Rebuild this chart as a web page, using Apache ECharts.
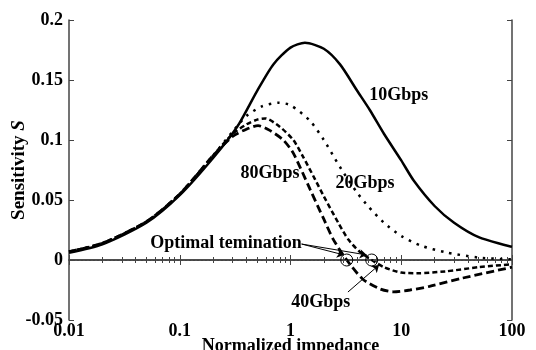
<!DOCTYPE html>
<html>
<head>
<meta charset="utf-8">
<script src="https://cdn.jsdelivr.net/npm/echarts@6/dist/echarts.min.js"></script>
<style>
  html, body { margin: 0; padding: 0; background: #fff; }
  #chart { width: 536px; height: 350px; }
</style>
</head>
<body>
<div id="chart"></div>
<script>
// normalized impedance (x) and sensitivity S (y) for each bit rate
const x10 = [0.01, 0.02, 0.05, 0.1, 0.2, 0.33, 0.5, 0.7, 1, 1.35, 2, 2.8, 4, 5.2, 7, 10, 13, 20, 30, 50, 100];
const y10 = [0.006, 0.013, 0.031, 0.054, 0.085, 0.111, 0.141, 0.163, 0.177, 0.181, 0.176, 0.163, 0.141, 0.125, 0.105, 0.083, 0.066, 0.045, 0.031, 0.019, 0.011];

const x20 = [0.01, 0.02, 0.05, 0.1, 0.2, 0.3, 0.4, 0.55, 0.78, 1, 1.5, 2, 2.5, 3, 4, 5, 7, 10, 15, 25, 50, 100];
const y20 = [0.007, 0.014, 0.032, 0.055, 0.087, 0.107, 0.12, 0.128, 0.131, 0.129, 0.116, 0.1, 0.085, 0.073, 0.056, 0.045, 0.031, 0.02, 0.012, 0.0065, 0.002, 0.0005];

const x40 = [0.01, 0.02, 0.05, 0.1, 0.2, 0.3, 0.4, 0.5, 0.59, 0.8, 1.06, 1.3, 1.67, 2, 2.7, 3.33, 4.2, 5.41, 7, 10, 14, 25, 50, 100];
const y40 = [0.007, 0.014, 0.032, 0.055, 0.087, 0.105, 0.113, 0.117, 0.118, 0.111, 0.1, 0.086, 0.067, 0.053, 0.031, 0.017, 0.007, 0, -0.006, -0.0105, -0.011, -0.0095, -0.006, -0.0035];

const x80 = [0.01, 0.02, 0.05, 0.1, 0.2, 0.3, 0.4, 0.51, 0.65, 0.86, 1.06, 1.5, 2, 2.44, 3.22, 4.5, 6.4, 8.5, 12, 18, 36, 100];
const y80 = [0.007, 0.014, 0.032, 0.055, 0.087, 0.103, 0.109, 0.112, 0.108, 0.1, 0.089, 0.059, 0.034, 0.017, 0, -0.016, -0.024, -0.0265, -0.025, -0.022, -0.015, -0.006];

// optimal termination points (zero crossings)
const optX = [3.22, 5.41];
const optY = [0, 0];

// arrow annotations [from, to]
const arrows = [
  [[1.26, 0.0133], [3.04, 0.0042]],
  [[1.26, 0.0133], [4.88, 0.0042]],
  [[3.3, -0.0267], [6.3, -0.0042]]
];

// in-plot labels
const labelText = ['10Gbps', '20Gbps', '80Gbps', '40Gbps', 'Optimal temination'];
const labelX = [9.5, 4.7, 0.653, 1.88, 0.262];
const labelY = [0.137, 0.064, 0.0725, -0.035, 0.0142];

const zip = (xs, ys) => xs.map((v, i) => [v, ys[i]]);

const font = 'Liberation Serif';
const axisColor = '#444';

const chart = echarts.init(document.getElementById('chart'));

const baseLine = (name, xs, ys, type, width) => ({
  name: name,
  type: 'line',
  data: zip(xs, ys),
  smooth: 0.25,
  showSymbol: false,
  symbol: 'none',
  lineStyle: { color: '#000', width: width, type: type },
  z: 3
});

chart.setOption({
  animation: false,
  grid: { left: 69, right: 24, top: 20, bottom: 30, outerBoundsMode: 'none' },
  xAxis: [
    {
      type: 'log',
      min: 0.01,
      max: 100,
      logBase: 10,
      name: 'Normalized impedance',
      nameLocation: 'middle',
      nameGap: 17,
      nameMoveOverlap: false,
      nameTextStyle: { fontFamily: font, fontWeight: 'bold', fontSize: 18, color: '#000' },
      axisLine: { lineStyle: { color: axisColor, width: 1.5 } },
      axisTick: { inside: true, length: 5, lineStyle: { color: axisColor } },
      minorTick: { show: true, splitNumber: 9, length: 3, lineStyle: { color: axisColor } },
      splitLine: { show: false },
      axisLabel: {
        fontFamily: font, fontWeight: 'bold', fontSize: 18, color: '#000', margin: 2,
        formatter: v => String(v)
      }
    },
    {
      type: 'log',
      position: 'top',
      min: 0.01,
      max: 100,
      logBase: 10,
      axisLine: { lineStyle: { color: axisColor, width: 1.5 } },
      axisTick: { inside: true, length: 5, lineStyle: { color: axisColor } },
      minorTick: { show: true, splitNumber: 9, length: 3, lineStyle: { color: axisColor } },
      splitLine: { show: false },
      axisLabel: { show: false }
    }
  ],
  yAxis: [
    {
      type: 'value',
      min: -0.05,
      max: 0.2,
      interval: 0.05,
      name: 'Sensitivity {i|S}',
      nameLocation: 'middle',
      nameGap: 40,
      nameMoveOverlap: false,
      nameTextStyle: {
        fontFamily: font, fontWeight: 'bold', fontSize: 19, color: '#000',
        rich: { i: { fontFamily: font, fontStyle: 'italic', fontSize: 19, color: '#000' } }
      },
      axisLine: { show: true, lineStyle: { color: axisColor, width: 1.5 } },
      axisTick: { inside: true, length: 5, lineStyle: { color: axisColor } },
      splitLine: { show: false },
      axisLabel: {
        fontFamily: font, fontWeight: 'bold', fontSize: 18, color: '#000', margin: 6,
        formatter: v => String(+v.toFixed(2))
      }
    },
    {
      type: 'value',
      position: 'right',
      min: -0.05,
      max: 0.2,
      interval: 0.05,
      axisLine: { show: true, lineStyle: { color: axisColor, width: 1.5 } },
      axisTick: { inside: true, length: 5, lineStyle: { color: axisColor } },
      splitLine: { show: false },
      axisLabel: { show: false }
    }
  ],
  series: [
    Object.assign(baseLine('10Gbps', x10, y10, 'solid', 2.5), {
      markLine: {
        silent: true,
        symbol: 'none',
        label: { show: false },
        lineStyle: { color: '#444', width: 1, type: [2, 2] },
        data: [{ yAxis: 0 }]
      }
    }),
    baseLine('20Gbps', x20, y20, [2.5, 6], 2.5),
    baseLine('40Gbps', x40, y40, [5, 3], 2.5),
    baseLine('80Gbps', x80, y80, [8, 4], 2.8),
    {
      name: 'optimal',
      type: 'scatter',
      data: zip(optX, optY),
      symbol: 'circle',
      symbolSize: 12,
      itemStyle: { color: 'rgba(0,0,0,0)', borderColor: '#000', borderWidth: 1, opacity: 1 },
      z: 5
    },
    {
      name: 'arrows',
      type: 'lines',
      coordinateSystem: 'cartesian2d',
      data: arrows.map(a => ({ coords: a })),
      symbol: ['none', 'arrow'],
      symbolSize: 7,
      lineStyle: { color: '#000', width: 1, opacity: 1 },
      z: 5
    },
    {
      name: 'labels',
      type: 'scatter',
      data: labelText.map((t, i) => ({ value: [labelX[i], labelY[i]], name: t })),
      symbolSize: 1,
      itemStyle: { color: 'rgba(0,0,0,0)', opacity: 1 },
      label: {
        show: true,
        position: 'inside',
        formatter: p => p.name,
        fontFamily: font,
        fontWeight: 'bold',
        fontSize: 18,
        color: '#000',
        opacity: 1
      },
      z: 6
    }
  ]
});
</script>
</body>
</html>
